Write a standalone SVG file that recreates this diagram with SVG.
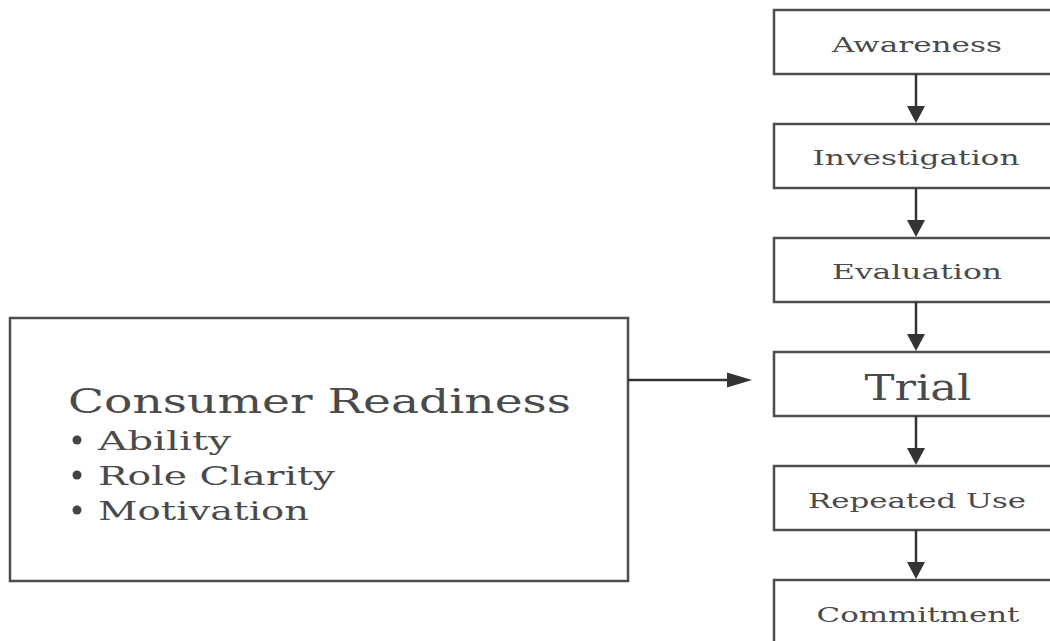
<svg xmlns="http://www.w3.org/2000/svg" width="1050" height="641" viewBox="0 0 1050 641">
<style>
.box{fill:#fff;stroke:#4d4d4d;stroke-width:2.5}
.lbl{font-family:"DejaVu Serif","Liberation Serif",serif;fill:#4a4a4a;text-anchor:middle;font-size:21px}
.big{font-size:35px}
.ltxt{font-family:"DejaVu Serif","Liberation Serif",serif;fill:#4a4a4a}
.conn{stroke:#333;stroke-width:2.5;fill:none}
.head{fill:#333}
</style>
<rect width="1050" height="641" fill="#fff"/>
<g id="consumer-readiness">
<rect class="box" x="10" y="318" width="618" height="263"/>
<text class="ltxt" x="68" y="413" font-size="33" textLength="503" lengthAdjust="spacingAndGlyphs">Consumer Readiness</text>
<circle cx="77" cy="440" r="4.5" fill="#444"/>
<text class="ltxt" x="98" y="450" font-size="26" textLength="133" lengthAdjust="spacingAndGlyphs">Ability</text>
<circle cx="77" cy="475" r="4.5" fill="#444"/>
<text class="ltxt" x="98" y="485" font-size="26" textLength="237" lengthAdjust="spacingAndGlyphs">Role Clarity</text>
<circle cx="77" cy="510" r="4.5" fill="#444"/>
<text class="ltxt" x="98" y="520" font-size="26" textLength="211" lengthAdjust="spacingAndGlyphs">Motivation</text>
</g>
<g id="awareness">
<rect class="box" x="774" y="10" width="290" height="64"/>
<text class="lbl" x="917" y="52" textLength="170" lengthAdjust="spacingAndGlyphs">Awareness</text>
</g>
<g id="investigation">
<rect class="box" x="774" y="124" width="290" height="64"/>
<text class="lbl" x="916" y="165" textLength="207" lengthAdjust="spacingAndGlyphs">Investigation</text>
</g>
<g id="evaluation">
<rect class="box" x="774" y="238" width="290" height="64"/>
<text class="lbl" x="917" y="279" textLength="170" lengthAdjust="spacingAndGlyphs">Evaluation</text>
</g>
<g id="trial">
<rect class="box" x="774" y="352" width="290" height="64"/>
<text class="lbl big" x="918" y="400" textLength="107" lengthAdjust="spacingAndGlyphs">Trial</text>
</g>
<g id="repeated-use">
<rect class="box" x="774" y="466" width="290" height="64"/>
<text class="lbl" x="917" y="508" textLength="218" lengthAdjust="spacingAndGlyphs">Repeated Use</text>
</g>
<g id="commitment">
<rect class="box" x="774" y="580" width="290" height="70"/>
<text class="lbl" x="918" y="622" textLength="203" lengthAdjust="spacingAndGlyphs">Commitment</text>
</g>
<g id="connectors">
<line class="conn" x1="916" y1="74" x2="916" y2="110"/>
<path class="head" d="M907,106 L925,106 L916,123 Z"/>
<line class="conn" x1="916" y1="188" x2="916" y2="224"/>
<path class="head" d="M907,220 L925,220 L916,237 Z"/>
<line class="conn" x1="916" y1="302" x2="916" y2="338"/>
<path class="head" d="M907,334 L925,334 L916,351 Z"/>
<line class="conn" x1="916" y1="416" x2="916" y2="452"/>
<path class="head" d="M907,448 L925,448 L916,465 Z"/>
<line class="conn" x1="916" y1="530" x2="916" y2="566"/>
<path class="head" d="M907,562 L925,562 L916,579 Z"/>
<line class="conn" x1="628" y1="380" x2="732" y2="380"/>
<path class="head" d="M727,372.5 L752,380 L727,387.5 Z"/>
</g>
</svg>
